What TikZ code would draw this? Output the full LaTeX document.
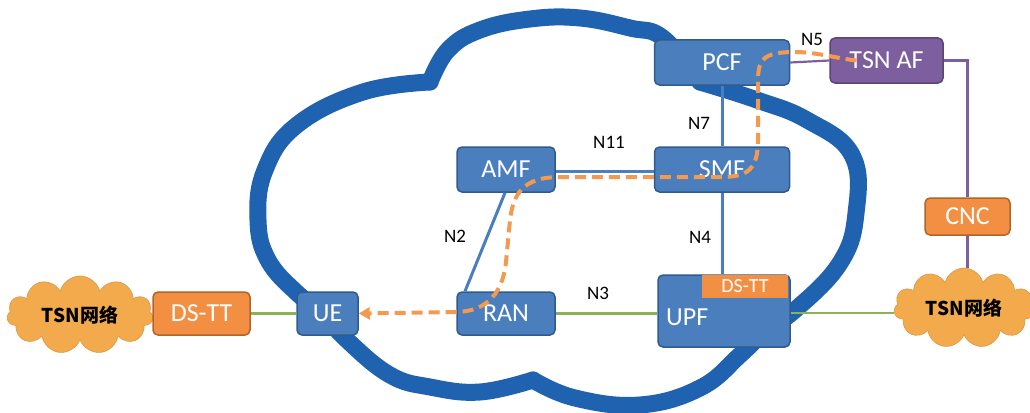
\documentclass[tikz,border=0pt]{standalone}
\usepackage{fontspec}
\setmainfont{Carlito}
\newfontfamily\cjkfont{Noto Sans CJK SC}
\usetikzlibrary{shapes.symbols,arrows.meta}
\definecolor{cloudblue}{HTML}{1F63B0}
\definecolor{boxfill}{HTML}{4A7EBD}
\definecolor{boxline}{HTML}{2F5B8E}
\definecolor{orfill}{HTML}{F38F43}
\definecolor{orline}{HTML}{B3642A}
\definecolor{pufill}{HTML}{7D5FA0}
\definecolor{puline}{HTML}{5B4478}
\definecolor{grline}{HTML}{8DB255}
\definecolor{tsnfill}{HTML}{F2AA4C}
\definecolor{dashor}{HTML}{F39A4E}
\tikzset{
  nf/.style={draw=boxline, fill=boxfill, line width=1.5pt, rounded corners=5pt,
    text=white, font=\fontsize{26}{26}\selectfont, inner sep=0pt, minimum height=45pt},
  orbox/.style={nf, draw=orline, fill=orfill},
  pubox/.style={nf, draw=puline, fill=pufill},
  tsncloud/.style={cloud, cloud puffs=11, cloud ignores aspect, fill=tsnfill, draw=tsnfill!90!black,
    line width=0.6pt, inner sep=0pt, font=\cjkfont\bfseries\fontsize{19}{19}\selectfont},
  lbl/.style={font=\fontsize{19}{19}\selectfont, text=black, inner sep=0pt},
  blueline/.style={draw=boxfill, line width=3pt},
  greenline/.style={draw=grline, line width=2.2pt},
  purpleline/.style={draw=pufill, line width=2.2pt},
  flow/.style={draw=dashor, line width=4pt, dash pattern=on 11pt off 6pt,
    -{Triangle[length=11pt,width=12pt]}},
  bigcloud/.style={draw=cloudblue, line width=17pt, line join=round, line cap=round}
}
\begin{document}
\begin{tikzpicture}[x=1pt,y=-1pt]
\useasboundingbox (0,0) rectangle (1030,412);
% big cloud
\draw[bigcloud] plot[smooth, tension=0.7] coordinates {(700,82) (663,38) (630,28) (580,18) (530,19) (480,30) (448,50) (430,82)};
\draw[bigcloud] plot[smooth, tension=0.7] coordinates {(430,82) (363,92) (297,125) (265,170) (258,220) (268,260) (297,293) (320,310)};
\draw[bigcloud] plot[smooth, tension=0.7] coordinates {(320,310) (347,340) (390,375) (430,387) (480,392) (533,380)};
\draw[bigcloud] plot[smooth, tension=0.7] coordinates {(533,380) (575,398) (640,405) (700,388) (740,355) (765,330)};
\draw[bigcloud] plot[smooth, tension=0.7] coordinates {(765,330) (795,310) (840,263) (856,213) (852,155) (807,120) (757,100) (700,82)};

% TSN clouds
\node[tsncloud, minimum width=146pt, minimum height=78pt] (tsnL) at (80,315) {TSN网络};
\node[tsncloud, minimum width=140pt, minimum height=80pt] (tsnR) at (964,308) {TSN网络};

% nodes
\node[nf, minimum width=135pt] (PCF) at (722,62.5) {PCF};
\node[pubox, minimum width=113pt] (TSNAF) at (886.5,60.5) {TSN AF};
\node[nf, minimum width=98pt] (AMF) at (506,169.5) {AMF};
\node[nf, minimum width=135pt] (SMF) at (722,169.5) {SMF};
\node[nf, minimum width=61pt, minimum height=43pt] (UE) at (327.5,313.5) {UE};
\node[nf, minimum width=98pt, minimum height=43pt] (RAN) at (506,313.5) {RAN};
\node[nf, minimum width=132pt, minimum height=72pt] (UPF) at (724,311) {};
\node[text=white, font=\fontsize{26}{26}\selectfont, anchor=west, inner sep=0pt] (UPFt) at (666,317) {UPF};
\node[fill=orfill, minimum width=86pt, minimum height=23pt, inner sep=0pt, text=white,
  font=\fontsize{20}{20}\selectfont] (DSTTu) at (745,286.5) {DS-TT};
\node[orbox, minimum width=97pt, minimum height=43pt] (DSTTl) at (201.5,313.5) {DS-TT};
\node[orbox, minimum width=85pt, minimum height=37pt] (CNC) at (967.5,216.5) {CNC};

% connectors
\draw[greenline] (DSTTl.east) -- (UE.west);
\draw[greenline] (RAN.east) -- (RAN.east -| UPF.west);
\draw[greenline] ([yshift=-2pt]UPF.east) -- ([yshift=-2pt]UPF.east -| tsnR.west);
\draw[blueline] (PCF.south) -- (SMF.north);
\draw[blueline] (SMF.south) -- (SMF.south |- UPF.north);
\draw[blueline] ([yshift=-2pt]AMF.east) -- ([yshift=-2pt]SMF.west);
\draw[white, line width=1.5pt] ([yshift=1.5pt]AMF.east) -- ([yshift=1.5pt]SMF.west);
\draw[blueline] ([xshift=-1pt]AMF.south) -- ([xshift=-41pt]RAN.north);
\draw[purpleline] (PCF.east) -- (TSNAF.west);
\draw[purpleline] (TSNAF.east) -| (CNC.north);
\draw[purpleline] (CNC.south) -- (CNC.south |- tsnR.north);

% labels
\node[lbl] (n5) at (812,39) {N5};
\node[lbl] (n7) at (699,123) {N7};
\node[lbl] (n11) at (609,142) {N11};
\node[lbl] (n2) at (455,236) {N2};
\node[lbl] (n4) at (700,237) {N4};
\node[lbl] (n3) at (598,293) {N3};

% flow
\draw[flow] ([xshift=-30pt]TSNAF.center) .. controls (835,58) and (815,52) .. (795,52)
  .. controls (762,52) and (758,60) .. (758,82) -- (758,140)
  .. controls (758,172) and (745,177) .. (720,177) -- (560,177)
  .. controls (522,177) and (513,195) .. (510,220) -- (506,262)
  .. controls (502,300) and (480,312) .. (455,312) -- (UE.east);
\end{tikzpicture}
\end{document}
